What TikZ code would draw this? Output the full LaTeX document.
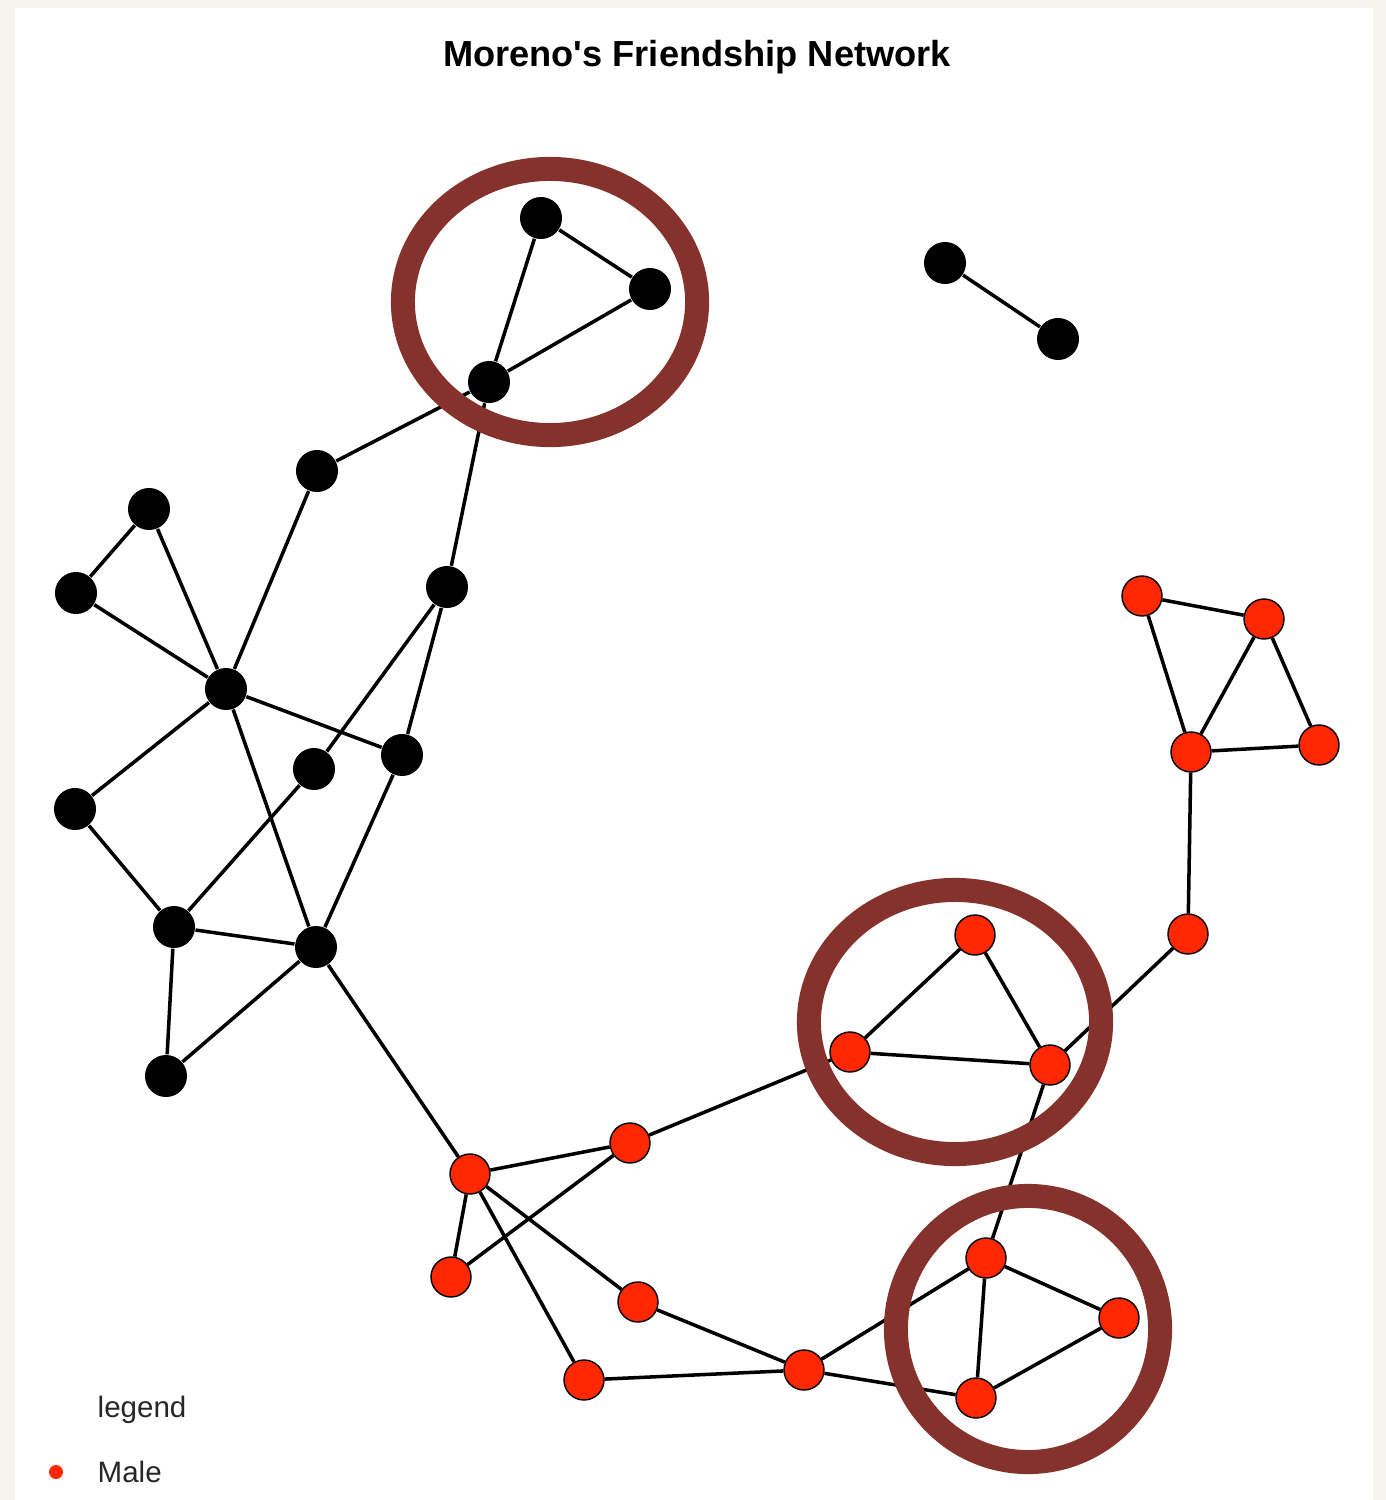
\documentclass[tikz,border=0pt]{standalone}
\usepackage{fontspec}
\setmainfont{Liberation Sans}
\usepackage{xcolor}
\usepackage{tikz}
\usetikzlibrary{backgrounds}

\definecolor{maleRed}{RGB}{255,40,0}
\definecolor{ringBrown}{RGB}{133,49,44}
\definecolor{paper}{RGB}{245,243,237}

\begin{document}
\begin{tikzpicture}[
    x=0.01cm, y=-0.01cm,
    female/.style={circle, fill=black, inner sep=0pt, minimum size=0.42cm},
    male/.style={circle, draw=black, line width=0.4pt, fill=maleRed,
                 inner sep=0pt, minimum size=0.40cm},
    link/.style={line width=1pt, black},
    ring/.style={draw=ringBrown, line width=0.24cm},
    keydot/.style={circle, fill=maleRed, inner sep=0pt, minimum size=0.14cm},
    keytext/.style={anchor=base west, inner sep=0pt, font=\fontsize{8.4pt}{10pt}\selectfont,
                    text=black!85},
]

% Paper and white sheet
\useasboundingbox (0,0) rectangle (1386,1500);
\fill[paper] (0,0) rectangle (1386,1500);
\fill[white] (15,8) rectangle (1373,1500);

% Title
\node[anchor=base, inner sep=0pt, font=\fontsize{10.3pt}{12pt}\selectfont\bfseries]
    (title) at (697,67) {Moreno\textquotesingle s Friendship Network};

% Black vertices
\node[female] (b1)  at (541,218) {};
\node[female] (b2)  at (650,289) {};
\node[female] (b3)  at (489,382) {};
\node[female] (b4)  at (945,263) {};
\node[female] (b5)  at (1058,339) {};
\node[female] (b6)  at (317,471) {};
\node[female] (b7)  at (149,509) {};
\node[female] (b8)  at (76,593) {};
\node[female] (b9)  at (447,587) {};
\node[female] (b10) at (226,689) {};
\node[female] (b11) at (402,755) {};
\node[female] (b12) at (314,769) {};
\node[female] (b13) at (75,809) {};
\node[female] (b14) at (174,927) {};
\node[female] (b15) at (316,947) {};
\node[female] (b16) at (166,1076) {};

% Red (male) vertices
\node[male] (r1)  at (1142,596) {};
\node[male] (r2)  at (1264,619) {};
\node[male] (r3)  at (1191,752) {};
\node[male] (r4)  at (1319,745) {};
\node[male] (r5)  at (1188,934) {};
\node[male] (r6)  at (975,935) {};
\node[male] (r7)  at (850,1052) {};
\node[male] (r8)  at (1050,1065) {};
\node[male] (r9)  at (470,1174) {};
\node[male] (r10) at (630,1143) {};
\node[male] (r11) at (451,1277) {};
\node[male] (r12) at (638,1302) {};
\node[male] (r13) at (584,1380) {};
\node[male] (r14) at (804,1370) {};
\node[male] (r15) at (986,1258) {};
\node[male] (r16) at (1119,1318) {};
\node[male] (r17) at (976,1398) {};

% Ties among black vertices
\draw[link] (b1) -- (b2);
\draw[link] (b1) -- (b3);
\draw[link] (b2) -- (b3);
\draw[link] (b4) -- (b5);
\draw[link] (b3) -- (b6);
\draw[link] (b3) -- (b9);
\draw[link] (b6) -- (b10);
\draw[link] (b7) -- (b8);
\draw[link] (b7) -- (b10);
\draw[link] (b8) -- (b10);
\draw[link] (b9) -- (b12);
\draw[link] (b9) -- (b11);
\draw[link] (b10) -- (b11);
\draw[link] (b10) -- (b13);
\draw[link] (b10) -- (b15);
\draw[link] (b12) -- (b14);
\draw[link] (b13) -- (b14);
\draw[link] (b14) -- (b15);
\draw[link] (b14) -- (b16);
\draw[link] (b11) -- (b15);
\draw[link] (b15) -- (b16);
\draw[link] (b15) -- (r9);

% Ties among red vertices
\draw[link] (r9) -- (r10);
\draw[link] (r9) -- (r11);
\draw[link] (r9) -- (r12);
\draw[link] (r9) -- (r13);
\draw[link] (r10) -- (r11);
\draw[link] (r10) -- (r7);
\draw[link] (r12) -- (r14);
\draw[link] (r13) -- (r14);
\draw[link] (r14) -- (r15);
\draw[link] (r14) -- (r17);
\draw[link] (r15) -- (r16);
\draw[link] (r15) -- (r17);
\draw[link] (r16) -- (r17);
\draw[link] (r15) -- (r8);
\draw[link] (r6) -- (r7);
\draw[link] (r6) -- (r8);
\draw[link] (r7) -- (r8);
\draw[link] (r8) -- (r5);
\draw[link] (r5) -- (r3);
\draw[link] (r3) -- (r1);
\draw[link] (r3) -- (r2);
\draw[link] (r3) -- (r4);
\draw[link] (r1) -- (r2);
\draw[link] (r2) -- (r4);

% Highlight rings around the triads
\draw[ring] (550,302) ellipse [x radius=1.47cm, y radius=1.33cm];
\draw[ring] (955,1022) ellipse [x radius=1.46cm, y radius=1.32cm];
\draw[ring] (1028,1329) ellipse [x radius=1.32cm, y radius=1.33cm];

% Legend
\node[keytext] (keyhead) at (97,1417) {legend};
\node[keydot] (keymale) at (56,1472) {};
\node[keytext] (keylabel) at (97,1482) {Male};

\end{tikzpicture}
\end{document}
